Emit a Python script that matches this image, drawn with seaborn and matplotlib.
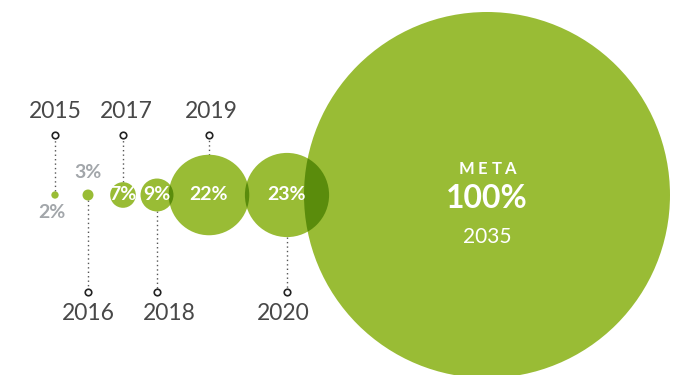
import matplotlib
matplotlib.use("Agg")
import matplotlib.pyplot as plt
from matplotlib.patches import Circle
import seaborn as sns
import pandas as pd

# ---- data ----
years = ["2015", "2016", "2017", "2018", "2019", "2020"]
values = [2, 3, 7, 9, 22, 23]
goal_label = "META"
goal_value = 100
goal_year = "2035"

# ---- layout (pixel space) ----
centers_x = [55, 88, 123, 157, 209, 287]
goal_x = 487
cy = 195
scale = 1.83          # px of radius per percentage point
label_side = ["up", "down", "up", "down", "up", "down"]
label_dx = [0, 0, 3, 12, 2, -4]
pct_inside = [False, False, True, True, True, True]
pct_offset = [18, -23, 0, 0, 0, 0]

light = "#99bc35"
dark = "#5a8c0c"
gray_pct = "#a2a6aa"
year_col = "#484848"

sns.set_theme(style="white")
plt.rcParams["font.family"] = ["Lato", "DejaVu Sans"]

fig = plt.figure(figsize=(6.86, 3.75), dpi=100)
ax = fig.add_axes([0, 0, 1, 1])

radii = [v * scale for v in values]
goal_r = goal_value * scale

# circles
patches = []
for x, r in zip(centers_x, radii):
    c = Circle((x, cy), r, color=light, lw=0, zorder=2)
    ax.add_patch(c)
    patches.append(c)
gc = Circle((goal_x, cy), goal_r, color=light, lw=0, zorder=2)
ax.add_patch(gc)
patches.append(gc)

# overlap shading between neighbours
for a, b in zip(patches[:-1], patches[1:]):
    ov = Circle(b.center, b.radius, color=dark, lw=0, zorder=3)
    ax.add_patch(ov)
    ov.set_clip_path(a)

# connectors
marker_rows = []
for x, r, side, yr, dx in zip(centers_x, radii, label_side, years, label_dx):
    if side == "up":
        my, ly, y0 = 135, 111, cy - r
    else:
        my, ly, y0 = 292, 313, cy + r
    ax.plot([x, x], [y0, my], color="#555555", lw=1.0, ls=(0, (1, 2.2)), zorder=1)
    marker_rows.append({"x": x, "y": my})
    ax.text(x + dx, ly, yr, ha="center", va="center", fontsize=16.5, color=year_col,
            fontweight="normal")

mdf = pd.DataFrame(marker_rows)
sns.scatterplot(data=mdf, x="x", y="y", ax=ax, s=22, marker="o",
                facecolor="white", edgecolor="#222222", linewidth=1.2, zorder=4,
                legend=False)
ax.set_xlim(0, 686)
ax.set_ylim(375, 0)
ax.set_aspect("equal")
ax.axis("off")

# percentage labels
for x, v, inside, off in zip(centers_x, values, pct_inside, pct_offset):
    if inside:
        ax.text(x, cy, f"{v}%", ha="center", va="center", fontsize=14,
                fontweight="bold", color="white", zorder=5)
    else:
        ax.text(x - (3 if off > 0 else 0), cy + off, f"{v}%", ha="center", va="center",
                fontsize=14, fontweight="bold", color=gray_pct, zorder=5)

# goal text (letter-spaced label)
letter_dx = [-21, -5, 10, 23]
for ch, dx in zip(goal_label, letter_dx):
    ax.text(goal_x + dx, 169, ch, ha="center", va="center",
            fontsize=12, fontweight="bold", color="white", zorder=5)
ax.text(goal_x, 198, f"{goal_value}%", ha="center", va="center", fontsize=23,
        fontweight="bold", color="white", zorder=5)
ax.text(goal_x, 237, goal_year, ha="center", va="center", fontsize=15,
        fontweight="normal", color="white", zorder=5)

fig.savefig("out.png", dpi=100)
